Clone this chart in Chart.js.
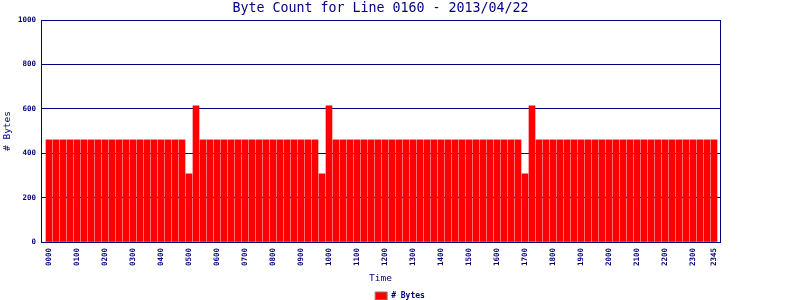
<!DOCTYPE html>
<html>
<head>
<meta charset="utf-8">
<script src="https://cdn.jsdelivr.net/npm/chart.js@4/dist/chart.umd.min.js"></script>
<style>
  html, body { margin: 0; padding: 0; background: #ffffff; }
  #wrap { width: 800px; height: 300px; position: relative; }
</style>
</head>
<body>
<div id="wrap"><canvas id="c" width="800" height="300"></canvas></div>
<script>
const chartTitle = "Byte Count for Line 0160 - 2013/04/22";
const seriesName = "# Bytes";
const xTitle = "Time";
const yTitle = "# Bytes";

const times = [
  "0000","0015","0030","0045","0100","0115","0130","0145",
  "0200","0215","0230","0245","0300","0315","0330","0345",
  "0400","0415","0430","0445","0500","0515","0530","0545",
  "0600","0615","0630","0645","0700","0715","0730","0745",
  "0800","0815","0830","0845","0900","0915","0930","0945",
  "1000","1015","1030","1045","1100","1115","1130","1145",
  "1200","1215","1230","1245","1300","1315","1330","1345",
  "1400","1415","1430","1445","1500","1515","1530","1545",
  "1600","1615","1630","1645","1700","1715","1730","1745",
  "1800","1815","1830","1845","1900","1915","1930","1945",
  "2000","2015","2030","2045","2100","2115","2130","2145",
  "2200","2215","2230","2245","2300","2315","2330","2345"
];

const bytes = [
  460,460,460,460,460,460,460,460,
  460,460,460,460,460,460,460,460,
  460,460,460,460,307,613,460,460,
  460,460,460,460,460,460,460,460,
  460,460,460,460,460,460,460,307,
  613,460,460,460,460,460,460,460,
  460,460,460,460,460,460,460,460,
  460,460,460,460,460,460,460,460,
  460,460,460,460,307,613,460,460,
  460,460,460,460,460,460,460,460,
  460,460,460,460,460,460,460,460,
  460,460,460,460,460,460,460,460
];

const shownTimes = ["0000","0100","0200","0300","0400","0500","0600","0700","0800","0900","1000","1100",
  "1200","1300","1400","1500","1600","1700","1800","1900","2000","2100","2200","2300","2345"];

const yTicks = [0, 200, 400, 600, 800, 1000];

const NAVY = "#000080";
const RED = "#ff0000";
const MONO = "'DejaVu Sans Mono', 'Liberation Mono', monospace";

const points = times.map((t, i) => ({ x: i, y: bytes[i] }));

new Chart(document.getElementById("c"), {
  type: "bar",
  data: {
    datasets: [{
      label: seriesName,
      data: points,
      backgroundColor: RED,
      borderWidth: 0,
      barThickness: 6
    }]
  },
  options: {
    responsive: false,
    animation: false,
    devicePixelRatio: 1,
    layout: { padding: { left: 0, right: 0, top: 0, bottom: -10 } },
    plugins: {
      title: {
        display: true,
        text: chartTitle,
        color: NAVY,
        fullSize: false,
        font: { family: MONO, size: 13.3, weight: "normal", lineHeight: 1.2 },
        padding: { top: 1, bottom: 3.04 }
      },
      legend: {
        display: true,
        position: "bottom",
        labels: {
          color: NAVY,
          boxWidth: 12,
          boxHeight: 8,
          padding: 2,
          font: { family: MONO, size: 8, weight: "bold" },
          generateLabels: (chart) => chart.data.datasets.map((ds, i) => ({
            text: ds.label,
            fillStyle: RED,
            strokeStyle: "#808080",
            lineWidth: 1,
            fontColor: NAVY,
            datasetIndex: i,
            hidden: false
          }))
        }
      },
      tooltip: { enabled: false }
    },
    scales: {
      x: {
        type: "linear",
        min: -8 / 7,
        max: 95 + 6 / 7,
        offset: false,
        afterBuildTicks: (scale) => {
          scale.ticks = shownTimes.map(t => ({ value: times.indexOf(t) }));
        },
        afterFit: (scale) => { scale.height = 48; },
        grid: { display: false, drawTicks: false },
        border: { display: true, color: NAVY, width: 1 },
        ticks: {
          autoSkip: false,
          minRotation: 90,
          maxRotation: 90,
          padding: 6,
          color: NAVY,
          font: { family: MONO, size: 7.5, weight: "bold" },
          callback: (v) => times[v]
        },
        title: {
          display: true,
          text: xTitle,
          color: NAVY,
          font: { family: MONO, size: 9.5 },
          padding: { top: 6, bottom: 6 }
        }
      },
      y: {
        min: 0,
        max: 1000,
        afterFit: (scale) => { scale.width = 41; },
        afterBuildTicks: (scale) => {
          scale.ticks = yTicks.map(v => ({ value: v }));
        },
        grid: { display: true, color: NAVY, lineWidth: 1, drawTicks: false },
        border: { display: true, color: NAVY, width: 1 },
        ticks: {
          padding: 5,
          color: NAVY,
          font: { family: MONO, size: 7.5, weight: "bold" },
          callback: (v) => String(v)
        },
        title: {
          display: true,
          text: yTitle,
          color: NAVY,
          font: { family: MONO, size: 9.5 },
          padding: { top: 2, bottom: 2 }
        }
      },
      y2: {
        position: "right",
        min: 0,
        max: 1000,
        afterFit: (scale) => { scale.width = 80; },
        grid: { display: false, drawTicks: false },
        border: { display: true, color: NAVY, width: 1 },
        ticks: { display: false }
      }
    }
  }
});
</script>
</body>
</html>
